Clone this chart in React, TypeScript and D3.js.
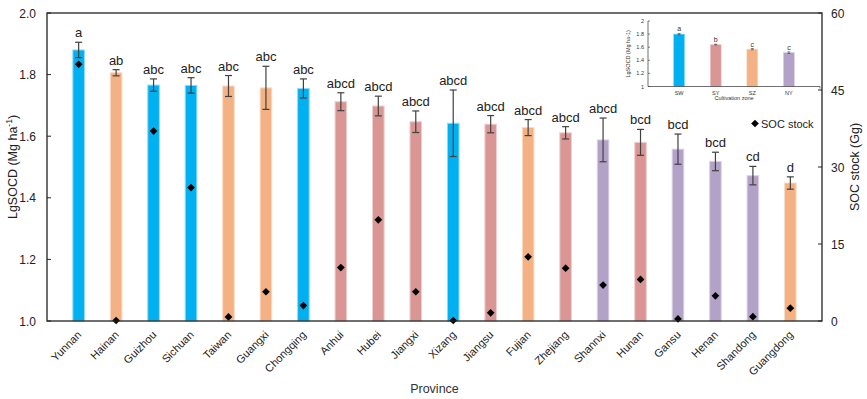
import React from "react";
import * as d3 from "d3";

const provinces = ["Yunnan", "Hainan", "Guizhou", "Sichuan", "Taiwan", "Guangxi", "Chongqing", "Anhui", "Hubei", "Jiangxi", "Xizang", "Jiangsu", "Fujian", "Zhejiang", "Shannxi", "Hunan", "Gansu", "Henan", "Shandong", "Guangdong"];
const zoneOf = ["SW", "SZ", "SW", "SW", "SZ", "SZ", "SW", "SY", "SY", "SY", "SW", "SY", "SZ", "SY", "NY", "SY", "NY", "NY", "NY", "SZ"];
const lgSocd = [1.88, 1.806, 1.766, 1.765, 1.763, 1.757, 1.755, 1.712, 1.698, 1.647, 1.642, 1.639, 1.628, 1.611, 1.588, 1.58, 1.558, 1.518, 1.472, 1.448];
const lgErr = [0.025, 0.01, 0.02, 0.025, 0.034, 0.07, 0.031, 0.029, 0.032, 0.035, 0.108, 0.028, 0.026, 0.02, 0.071, 0.042, 0.049, 0.03, 0.03, 0.02];
const letters = ["a", "ab", "abc", "abc", "abc", "abc", "abc", "abcd", "abcd", "abcd", "abcd", "abcd", "abcd", "abcd", "abcd", "bcd", "bcd", "bcd", "cd", "d"];
const socStock = [50, 0.1, 37, 26, 0.8, 5.7, 3.0, 10.4, 19.7, 5.7, 0.1, 1.6, 12.5, 10.3, 7.0, 8.1, 0.4, 4.9, 0.85, 2.5];

const leftTicks = [1.0, 1.2, 1.4, 1.6, 1.8, 2.0];
const rightTicks = [0, 15, 30, 45, 60];

const zones = ["SW", "SY", "SZ", "NY"];
const zoneVals = [1.8, 1.64, 1.57, 1.517];
const zoneErr = [0.01, 0.006, 0.01, 0.012];
const zoneLetters = ["a", "b", "c", "c"];
const insetTicks = [1, 1.2, 1.4, 1.6, 1.8, 2];

const zoneColor: Record<string, string> = { SW: "#00B0F0", SY: "#D99694", SZ: "#F4B183", NY: "#B3A2C7" };
const zoneStroke: Record<string, string> = { SW: "#8fdcf8", SY: "#efcfce", SZ: "#fadcc4", NY: "#dcd3e6" };

const font = "Liberation Sans, Arial, sans-serif";
const ink = "#404040";

const Inset = () => {
  const left = 648, right = 820, top = 21, bottom = 86.5;
  const x = d3.scaleBand().domain(zones).range([left, right]).padding(0.7);
  const y = d3.scaleLinear().domain([1, 2]).range([bottom, top]);
  return (
    <g fontFamily={font}>
      {zones.map((z, i) => {
        const cx = x(z)! + x.bandwidth() / 2;
        return (
          <g key={z}>
            <rect x={x(z)} y={y(zoneVals[i])} width={x.bandwidth()} height={bottom - y(zoneVals[i])}
              fill={zoneColor[z]} stroke={zoneStroke[z]} strokeWidth={0.6} />
            <line x1={cx} x2={cx} y1={y(zoneVals[i] + zoneErr[i])} y2={y(zoneVals[i] - zoneErr[i])} stroke={ink} strokeWidth={0.6} />
            <line x1={cx - 1.5} x2={cx + 1.5} y1={y(zoneVals[i] + zoneErr[i])} y2={y(zoneVals[i] + zoneErr[i])} stroke={ink} strokeWidth={0.6} />
            <line x1={cx - 1.5} x2={cx + 1.5} y1={y(zoneVals[i] - zoneErr[i])} y2={y(zoneVals[i] - zoneErr[i])} stroke={ink} strokeWidth={0.6} />
            <text x={cx} y={y(zoneVals[i] + zoneErr[i]) - 2} fontSize={7} textAnchor="middle" fill="#333">{zoneLetters[i]}</text>
            <text x={cx} y={bottom + 8} fontSize={5.5} textAnchor="middle" fill="#333">{z}</text>
          </g>
        );
      })}
      <line x1={left} x2={left} y1={top} y2={bottom} stroke="#333" strokeWidth={0.7} />
      <line x1={left} x2={right} y1={bottom} y2={bottom} stroke="#333" strokeWidth={0.7} />
      <line x1={right} x2={right} y1={bottom} y2={bottom + 2} stroke="#333" strokeWidth={0.7} />
      {insetTicks.map(t => (
        <g key={t}>
          <line x1={left} x2={left + 2} y1={y(t)} y2={y(t)} stroke="#333" strokeWidth={0.6} />
          <text x={left - 4} y={y(t) + 2} fontSize={5.5} textAnchor="end" fill="#333">{t}</text>
        </g>
      ))}
      <text transform={`translate(630, ${(top + bottom) / 2}) rotate(-90)`} fontSize={5.5} textAnchor="middle" fill="#333">
        LgSOCD (Mg ha-1)
      </text>
      <text x={(left + right) / 2} y={100} fontSize={5.5} textAnchor="middle" fill="#333">Cultivation zone</text>
    </g>
  );
};

const App = () => {
  const width = 867, height = 399;
  const left = 47, right = 822, top = 13, bottom = 321;

  const x = d3.scaleBand().domain(provinces).range([left, right]).padding(0.69);
  const y = d3.scaleLinear().domain([1, 2]).range([bottom, top]);
  const y2 = d3.scaleLinear().domain([0, 60]).range([bottom, top]);
  const diamond = d3.symbol().type(d3.symbolDiamond2).size(38)()!;

  return (
    <svg width={width} height={height} style={{ position: "absolute", left: 0, top: 0 }} fontFamily={font}>
      <rect width={width} height={height} fill="white" />
      {provinces.map((p, i) => {
        const cx = x(p)! + x.bandwidth() / 2;
        const z = zoneOf[i];
        const hi = y(lgSocd[i] + lgErr[i]);
        const lo = y(lgSocd[i] - lgErr[i]);
        return (
          <g key={p}>
            <rect x={x(p)} y={y(lgSocd[i])} width={x.bandwidth()} height={bottom - y(lgSocd[i])}
              fill={zoneColor[z]} stroke={zoneStroke[z]} strokeWidth={1} />
            <line x1={cx} x2={cx} y1={hi} y2={lo} stroke={ink} strokeWidth={1.2} />
            <line x1={cx - 3.5} x2={cx + 3.5} y1={hi} y2={hi} stroke={ink} strokeWidth={1.2} />
            <line x1={cx - 3.5} x2={cx + 3.5} y1={lo} y2={lo} stroke={ink} strokeWidth={1.2} />
            <text x={cx} y={hi - 5} fontSize={13} textAnchor="middle" fill="#222">{letters[i]}</text>
            <path d={diamond} transform={`translate(${cx}, ${y2(socStock[i])})`} fill="black" />
            <text transform={`translate(${cx + 3.5}, ${bottom + 14.5}) rotate(-45)`} fontSize={11} textAnchor="end" fill="#222">{p}</text>
          </g>
        );
      })}

      <rect x={left} y={top} width={right - left} height={bottom - top} fill="none" stroke="#222" strokeWidth={1.3} />
      {leftTicks.map(t => (
        <g key={t}>
          <line x1={left} x2={left + 4} y1={y(t)} y2={y(t)} stroke="#222" strokeWidth={1} />
          <text x={left - 11} y={y(t) + 4.5} fontSize={12} textAnchor="end" fill="#222">{t.toFixed(1)}</text>
        </g>
      ))}
      {rightTicks.map(t => (
        <g key={t}>
          <line x1={right} x2={right - 4} y1={y2(t)} y2={y2(t)} stroke="#222" strokeWidth={1} />
          <text x={right + 9} y={y2(t) + 4.5} fontSize={12} textAnchor="start" fill="#222">{t}</text>
        </g>
      ))}

      <text transform={`translate(17, ${(top + bottom) / 2}) rotate(-90)`} fontSize={12.5} textAnchor="middle" fill="#222">
        LgSOCD (Mg ha<tspan fontSize={8.5} dy={-5}>-1</tspan><tspan dy={5}>)</tspan>
      </text>
      <text transform={`translate(859, ${(top + bottom) / 2}) rotate(-90)`} fontSize={12.5} textAnchor="middle" fill="#222">
        SOC stock (Gg)
      </text>
      <text x={434.5} y={393} fontSize={12.5} textAnchor="middle" fill="#333">Province</text>

      <path d={diamond} transform="translate(755, 123.5)" fill="black" />
      <text x={761} y={127.5} fontSize={11} fill="#222">SOC stock</text>

      <Inset />
    </svg>
  );
};

export default App;
